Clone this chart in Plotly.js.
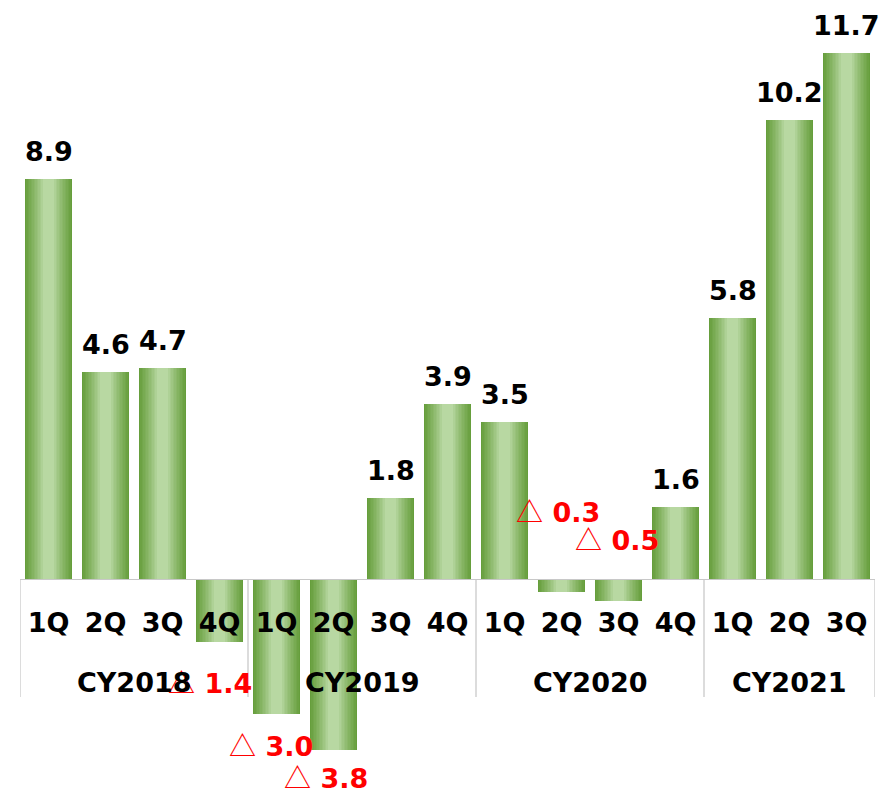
<!DOCTYPE html>
<html>
<head>
<meta charset="utf-8">
<script src="https://cdn.plot.ly/plotly-3.0.1.min.js"></script>
<style>
  html, body { margin: 0; padding: 0; background: #ffffff; }
  #chart { width: 895px; height: 793px; }
</style>
</head>
<body>
<div id="chart"></div>
<script>
// ---------- data ----------
var years    = ['CY2018','CY2018','CY2018','CY2018',
                'CY2019','CY2019','CY2019','CY2019',
                'CY2020','CY2020','CY2020','CY2020',
                'CY2021','CY2021','CY2021'];
var quarters = ['1Q','2Q','3Q','4Q',
                '1Q','2Q','3Q','4Q',
                '1Q','2Q','3Q','4Q',
                '1Q','2Q','3Q'];
var values   = [8.9, 4.6, 4.7, -1.4,
                -3.0, -3.8, 1.8, 3.9,
                3.5, -0.3, -0.5, 1.6,
                5.8, 10.2, 11.7];

// ---------- styles ----------
var FONT = 'DejaVu Sans, Verdana, sans-serif';
var FS = 27;
var BAR_W = 0.825;
var Y_RANGE = [-4.756, 12.867];
var DARK = [102, 158, 60];
var LIGHT = [184, 216, 162];
var LAYERS = 16;
// per-point label offsets for negative values (px)
var negShiftX = {3: -10, 4: -6, 5: -8, 9: -4, 10: -2};
var negShiftY = {3: -40, 4: -31, 5: -27, 9: 82, 10: 63};

var idx = values.map(function (v, i) { return i; });

function mix(a, b, t) {
  return 'rgb(' + a.map(function (c, k) { return Math.round(c + (b[k] - c) * t); }).join(',') + ')';
}

// gradient bars: stacked overlays of narrowing widths
var traces = [];
for (var k = 0; k < LAYERS; k++) {
  var d = 1 - k / LAYERS;               // relative half-width (1 = edge)
  var t = Math.max(0, Math.min(1, (d - 0.25) / 0.75));
  t = Math.pow(t, 0.85);                 // 0 = light, 1 = dark
  traces.push({
    type: 'bar',
    x: idx,
    y: values,
    width: BAR_W * d,
    marker: { color: mix(LIGHT, DARK, t), line: { width: 0 } },
    hoverinfo: 'skip',
    showlegend: false
  });
}

// value labels
var annotations = [];
values.forEach(function (v, i) {
  if (v >= 0) {
    annotations.push({
      x: i, y: v, xref: 'x', yref: 'y',
      text: v.toFixed(1), showarrow: false,
      yanchor: 'bottom', yshift: 10,
      font: { family: FONT, size: FS, color: '#000000', weight: 'bold' }
    });
  } else {
    annotations.push({
      x: i, y: v, xref: 'x', yref: 'y',
      text: '<span style="font-family:Noto Sans CJK JP;font-weight:normal">△</span> ' + Math.abs(v).toFixed(1),
      showarrow: false,
      yanchor: 'middle',
      xshift: negShiftX[i] || 0,
      yshift: negShiftY[i] || 0,
      font: { family: FONT, size: FS, color: '#ff0000', weight: 'bold' }
    });
  }
});

// year group labels and dividers
var groups = [];
years.forEach(function (y, i) {
  if (!groups.length || groups[groups.length - 1].name !== y) groups.push({ name: y, start: i, end: i });
  else groups[groups.length - 1].end = i;
});
var shapes = [];
var DIV_BOTTOM = -2.62;
var YEAR_Y = -2.29;
groups.forEach(function (g, gi) {
  annotations.push({
    x: (g.start + g.end) / 2, y: YEAR_Y, xref: 'x', yref: 'y',
    text: g.name, showarrow: false, yanchor: 'middle',
    font: { family: FONT, size: FS, color: '#000000', weight: 'bold' }
  });
  shapes.push({ type: 'line', xref: 'x', yref: 'y', layer: 'below',
    x0: g.start - 0.5, x1: g.start - 0.5, y0: 0, y1: DIV_BOTTOM,
    line: { color: '#d0d0d0', width: 1.5 } });
  if (gi === groups.length - 1) {
    shapes.push({ type: 'line', xref: 'x', yref: 'y', layer: 'below',
      x0: g.end + 0.5, x1: g.end + 0.5, y0: 0, y1: DIV_BOTTOM,
      line: { color: '#d0d0d0', width: 1.5 } });
  }
});

var zeroFrac = (0 - Y_RANGE[0]) / (Y_RANGE[1] - Y_RANGE[0]);

var layout = {
  width: 895, height: 793,
  margin: { l: 20, r: 20, t: 0, b: 0, pad: 0 },
  paper_bgcolor: '#ffffff', plot_bgcolor: '#ffffff',
  barmode: 'overlay',
  bargap: 0,
  showlegend: false,
  xaxis: {
    type: 'linear',
    range: [-0.5, values.length - 0.5],
    tickvals: idx, ticktext: quarters,
    anchor: 'free', position: zeroFrac,
    showline: true, linecolor: '#c8c8c8', linewidth: 1.5,
    ticks: 'outside', ticklen: 19, tickcolor: 'rgba(0,0,0,0)',
    tickfont: { family: FONT, size: FS, color: '#000000', weight: 'bold' },
    showgrid: false, zeroline: false, fixedrange: true
  },
  yaxis: {
    range: Y_RANGE, visible: false, showgrid: false, zeroline: false, fixedrange: true
  },
  annotations: annotations,
  shapes: shapes
};

Plotly.newPlot('chart', traces, layout, { displayModeBar: false, staticPlot: true });
</script>
</body>
</html>
